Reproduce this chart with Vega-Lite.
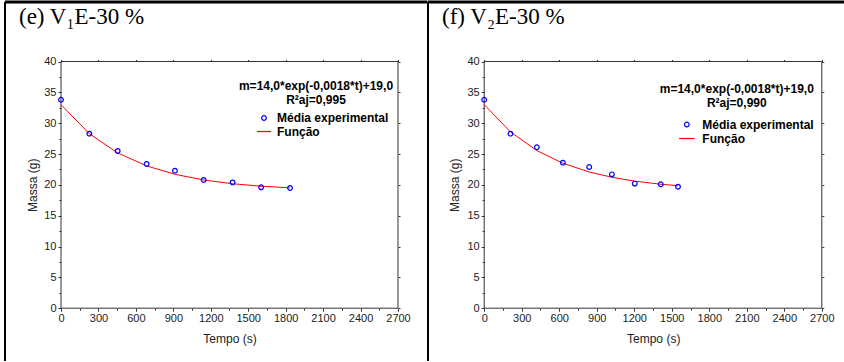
{
  "$schema": "https://vega.github.io/schema/vega-lite/v6.json",
  "background": "white",
  "padding": {"left": 3, "top": 0, "right": 0, "bottom": 0},
  "spacing": 0,
  "bounds": "flush",
  "datasets": {
    "e": [
      {"t": 0, "media": 33.8, "funcao": 33.0},
      {"t": 227, "media": 28.3, "funcao": 28.3},
      {"t": 454, "media": 25.5, "funcao": 25.18},
      {"t": 686, "media": 23.4, "funcao": 23.07},
      {"t": 913, "media": 22.3, "funcao": 21.71},
      {"t": 1143, "media": 20.8, "funcao": 20.79},
      {"t": 1375, "media": 20.4, "funcao": 20.18},
      {"t": 1603, "media": 19.6, "funcao": 19.78},
      {"t": 1835, "media": 19.5, "funcao": 19.52}
    ],
    "f": [
      {"t": 0, "media": 33.8, "funcao": 33.0},
      {"t": 210, "media": 28.3, "funcao": 28.59},
      {"t": 421, "media": 26.1, "funcao": 25.56},
      {"t": 629, "media": 23.6, "funcao": 23.51},
      {"t": 840, "media": 22.9, "funcao": 22.09},
      {"t": 1021, "media": 21.7, "funcao": 21.23},
      {"t": 1204, "media": 20.2, "funcao": 20.6},
      {"t": 1412, "media": 20.1, "funcao": 20.1},
      {"t": 1550, "media": 19.7, "funcao": 19.86}
    ]
  },
  "resolve": {"scale": {"color": "independent"}, "legend": {"color": "independent"}},
  "hconcat": [
    {
      "width": 422.5,
      "height": 359,
      "view": {"stroke": null, "fill": "white"},
      "title": {"text": "(e) V₁E-30 %", "anchor": "start", "frame": "group", "offset": -28.5, "dx": 14, "font": "Liberation Serif", "fontSize": 23, "fontWeight": "normal", "color": "black"},
      "data": {"name": "e"},
      "resolve": {"axis": {"x": "independent", "y": "independent"}},
      "layer": [
        {
          "data": {"values": [{}]},
          "mark": {"type": "rule", "color": "black", "strokeWidth": 2},
          "encoding": {
            "x": {"datum": -448.7, "type": "quantitative", "scale": {"domain": [-448.7, 2936.4], "nice": false, "zero": false}, "axis": null}
          }
        },
        {
          "data": {"values": [{}]},
          "mark": {"type": "rule", "color": "black", "strokeWidth": 3},
          "encoding": {
            "y": {"datum": 49.648, "type": "quantitative", "scale": {"domain": [-8.561, 49.648], "nice": false, "zero": false}, "axis": null}
          }
        },
        {
          "data": {"values": [{}]},
          "mark": {"type": "rect", "filled": false, "stroke": "#333", "strokeWidth": 1},
          "encoding": {
            "x": {"datum": 0, "type": "quantitative", "scale": {"domain": [-448.7, 2936.4], "nice": false, "zero": false},
              "axis": {"orient": "bottom", "offset": -52.8, "values": [0, 300, 600, 900, 1200, 1500, 1800, 2100, 2400, 2700], "format": "d", "domain": false, "grid": false, "tickSize": 3, "tickColor": "#333", "labelFont": "Liberation Sans", "labelFontSize": 11, "labelColor": "#222", "labelPadding": 1, "labelFlush": false, "labelOverlap": false, "title": "Tempo (s)", "titleFont": "Liberation Sans", "titleFontSize": 12, "titleFontWeight": "normal", "titleColor": "#222", "titleX": 224.5, "titleY": 34, "titleBaseline": "alphabetic"}},
            "x2": {"datum": 2700},
            "y": {"datum": 0, "type": "quantitative", "scale": {"domain": [-8.561, 49.648], "nice": false, "zero": false},
              "axis": {"orient": "left", "offset": -56, "values": [0, 5, 10, 15, 20, 25, 30, 35, 40], "domain": false, "grid": false, "tickSize": 3, "tickColor": "#333", "labelFont": "Liberation Sans", "labelFontSize": 11, "labelColor": "#222", "labelPadding": 2, "labelFlush": false, "labelOverlap": false, "title": "Massa (g)", "titleFont": "Liberation Sans", "titleFontSize": 12, "titleFontWeight": "normal", "titleColor": "#222", "titleX": -29, "titleY": 182.8, "titleBaseline": "middle"}},
            "y2": {"datum": 40}
          }
        },
        {
          "mark": {"type": "line", "color": "#ff0000", "strokeWidth": 1},
          "encoding": {
            "x": {"field": "t", "type": "quantitative", "scale": {"domain": [-448.7, 2936.4], "nice": false, "zero": false},
              "axis": {"orient": "bottom", "offset": -52.8, "values": [150, 450, 750, 1050, 1350, 1650, 1950, 2250, 2550], "domain": false, "grid": false, "labels": false, "tickSize": 2, "tickColor": "#333", "title": null}},
            "y": {"field": "funcao", "type": "quantitative", "scale": {"domain": [-8.561, 49.648], "nice": false, "zero": false},
              "axis": {"orient": "left", "offset": -56, "values": [2.5, 7.5, 12.5, 17.5, 22.5, 27.5, 32.5, 37.5], "domain": false, "grid": false, "labels": false, "tickSize": 2, "tickColor": "#333", "title": null}},
            "color": {"datum": "Função", "type": "nominal", "scale": {"domain": ["Média experimental", "Função"], "range": ["#0000ff", "#ff0000"]},
              "legend": {"orient": "none", "legendX": 234, "legendY": 79, "title": ["m=14,0*exp(-0,0018*t)+19,0", "R²aj=0,995"], "titleFont": "Liberation Sans", "titleFontSize": 12, "titleFontWeight": "bold", "titleColor": "black", "titleAlign": "center", "titleAnchor": "middle", "titleLineHeight": 14, "titlePadding": 5, "titleLimit": 400, "labelFont": "Liberation Sans", "labelFontSize": 12, "labelFontWeight": "bold", "labelColor": "black", "labelLimit": 400, "symbolSize": 100, "symbolOffset": 14, "labelOffset": 7, "rowPadding": 1.5,
                "encode": {"symbols": {"update": {"shape": {"signal": "datum.value === 'Função' ? 'stroke' : 'circle'"}, "size": {"signal": "datum.value === 'Função' ? 200 : 22"}, "stroke": {"signal": "datum.value === 'Função' ? '#ff0000' : '#0000ff'"}, "strokeWidth": {"value": 1.2}, "fill": {"value": "transparent"}}}}}}
          }
        },
        {
          "mark": {"type": "point", "shape": "circle", "filled": false, "size": 22, "strokeWidth": 1.2, "opacity": 1},
          "encoding": {
            "x": {"field": "t", "type": "quantitative", "scale": {"domain": [-448.7, 2936.4], "nice": false, "zero": false},
              "axis": {"orient": "top", "offset": -59.5, "values": [0, 300, 600, 900, 1200, 1500, 1800, 2100, 2400, 2700], "domain": false, "grid": false, "labels": false, "tickSize": 2, "tickColor": "#333", "title": null}},
            "y": {"field": "media", "type": "quantitative", "scale": {"domain": [-8.561, 49.648], "nice": false, "zero": false},
              "axis": {"orient": "right", "offset": -29.5, "values": [0, 5, 10, 15, 20, 25, 30, 35, 40], "domain": false, "grid": false, "labels": false, "tickSize": 2, "tickColor": "#333", "title": null}},
            "color": {"datum": "Média experimental", "type": "nominal", "scale": {"domain": ["Média experimental", "Função"], "range": ["#0000ff", "#ff0000"]},
              "legend": {"orient": "none", "legendX": 234, "legendY": 79, "title": ["m=14,0*exp(-0,0018*t)+19,0", "R²aj=0,995"], "titleFont": "Liberation Sans", "titleFontSize": 12, "titleFontWeight": "bold", "titleColor": "black", "titleAlign": "center", "titleAnchor": "middle", "titleLineHeight": 14, "titlePadding": 5, "titleLimit": 400, "labelFont": "Liberation Sans", "labelFontSize": 12, "labelFontWeight": "bold", "labelColor": "black", "labelLimit": 400, "symbolSize": 100, "symbolOffset": 14, "labelOffset": 7, "rowPadding": 1.5,
                "encode": {"symbols": {"update": {"shape": {"signal": "datum.value === 'Função' ? 'stroke' : 'circle'"}, "size": {"signal": "datum.value === 'Função' ? 200 : 22"}, "stroke": {"signal": "datum.value === 'Função' ? '#ff0000' : '#0000ff'"}, "strokeWidth": {"value": 1.2}, "fill": {"value": "transparent"}}}}}}
          }
        }
      ]
    },
    {
      "width": 417,
      "height": 359,
      "view": {"stroke": null, "fill": "white"},
      "title": {"text": "(f) V₂E-30 %", "anchor": "start", "frame": "group", "offset": -28.5, "dx": 14, "font": "Liberation Serif", "fontSize": 23, "fontWeight": "normal", "color": "black"},
      "data": {"name": "f"},
      "resolve": {"axis": {"x": "independent", "y": "independent"}},
      "layer": [
        {
          "data": {"values": [{}]},
          "mark": {"type": "rule", "color": "black", "strokeWidth": 2},
          "encoding": {
            "x": {"datum": -449.5, "type": "quantitative", "scale": {"domain": [-449.5, 2885.6], "nice": false, "zero": false}, "axis": null}
          }
        },
        {
          "data": {"values": [{}]},
          "mark": {"type": "rule", "color": "black", "strokeWidth": 3},
          "encoding": {
            "y": {"datum": 49.648, "type": "quantitative", "scale": {"domain": [-8.561, 49.648], "nice": false, "zero": false}, "axis": null}
          }
        },
        {
          "data": {"values": [{}]},
          "mark": {"type": "rect", "filled": false, "stroke": "#333", "strokeWidth": 1},
          "encoding": {
            "x": {"datum": 0, "type": "quantitative", "scale": {"domain": [-449.5, 2885.6], "nice": false, "zero": false},
              "axis": {"orient": "bottom", "offset": -52.8, "values": [0, 300, 600, 900, 1200, 1500, 1800, 2100, 2400, 2700], "format": "d", "domain": false, "grid": false, "tickSize": 3, "tickColor": "#333", "labelFont": "Liberation Sans", "labelFontSize": 11, "labelColor": "#222", "labelPadding": 1, "labelFlush": false, "labelOverlap": false, "title": "Tempo (s)", "titleFont": "Liberation Sans", "titleFontSize": 12, "titleFontWeight": "normal", "titleColor": "#222", "titleX": 225.2, "titleY": 34, "titleBaseline": "alphabetic"}},
            "x2": {"datum": 2700},
            "y": {"datum": 0, "type": "quantitative", "scale": {"domain": [-8.561, 49.648], "nice": false, "zero": false},
              "axis": {"orient": "left", "offset": -56.2, "values": [0, 5, 10, 15, 20, 25, 30, 35, 40], "domain": false, "grid": false, "tickSize": 3, "tickColor": "#333", "labelFont": "Liberation Sans", "labelFontSize": 11, "labelColor": "#222", "labelPadding": 2, "labelFlush": false, "labelOverlap": false, "title": "Massa (g)", "titleFont": "Liberation Sans", "titleFontSize": 12, "titleFontWeight": "normal", "titleColor": "#222", "titleX": -29.5, "titleY": 182.8, "titleBaseline": "middle"}},
            "y2": {"datum": 40}
          }
        },
        {
          "mark": {"type": "line", "color": "#ff0000", "strokeWidth": 1},
          "encoding": {
            "x": {"field": "t", "type": "quantitative", "scale": {"domain": [-449.5, 2885.6], "nice": false, "zero": false},
              "axis": {"orient": "bottom", "offset": -52.8, "values": [150, 450, 750, 1050, 1350, 1650, 1950, 2250, 2550], "domain": false, "grid": false, "labels": false, "tickSize": 2, "tickColor": "#333", "title": null}},
            "y": {"field": "funcao", "type": "quantitative", "scale": {"domain": [-8.561, 49.648], "nice": false, "zero": false},
              "axis": {"orient": "left", "offset": -56.2, "values": [2.5, 7.5, 12.5, 17.5, 22.5, 27.5, 32.5, 37.5], "domain": false, "grid": false, "labels": false, "tickSize": 2, "tickColor": "#333", "title": null}},
            "color": {"datum": "Função", "type": "nominal", "scale": {"domain": ["Média experimental", "Função"], "range": ["#0000ff", "#ff0000"]},
              "legend": {"orient": "none", "legendX": 231.8, "legendY": 81.5, "title": ["m=14,0*exp(-0,0018*t)+19,0", "R²aj=0,990"], "titleFont": "Liberation Sans", "titleFontSize": 12, "titleFontWeight": "bold", "titleColor": "black", "titleAlign": "center", "titleAnchor": "middle", "titleLineHeight": 14, "titlePadding": 9, "titleLimit": 400, "labelFont": "Liberation Sans", "labelFontSize": 12, "labelFontWeight": "bold", "labelColor": "black", "labelLimit": 400, "symbolSize": 100, "symbolOffset": 20, "labelOffset": 9.5, "rowPadding": 2,
                "encode": {"symbols": {"update": {"shape": {"signal": "datum.value === 'Função' ? 'stroke' : 'circle'"}, "size": {"signal": "datum.value === 'Função' ? 240 : 22"}, "stroke": {"signal": "datum.value === 'Função' ? '#ff0000' : '#0000ff'"}, "strokeWidth": {"value": 1.2}, "fill": {"value": "transparent"}}}}}}
          }
        },
        {
          "mark": {"type": "point", "shape": "circle", "filled": false, "size": 22, "strokeWidth": 1.2, "opacity": 1},
          "encoding": {
            "x": {"field": "t", "type": "quantitative", "scale": {"domain": [-449.5, 2885.6], "nice": false, "zero": false},
              "axis": {"orient": "top", "offset": -59.5, "values": [0, 300, 600, 900, 1200, 1500, 1800, 2100, 2400, 2700], "domain": false, "grid": false, "labels": false, "tickSize": 2, "tickColor": "#333", "title": null}},
            "y": {"field": "media", "type": "quantitative", "scale": {"domain": [-8.561, 49.648], "nice": false, "zero": false},
              "axis": {"orient": "right", "offset": -23.2, "values": [0, 5, 10, 15, 20, 25, 30, 35, 40], "domain": false, "grid": false, "labels": false, "tickSize": 2, "tickColor": "#333", "title": null}},
            "color": {"datum": "Média experimental", "type": "nominal", "scale": {"domain": ["Média experimental", "Função"], "range": ["#0000ff", "#ff0000"]},
              "legend": {"orient": "none", "legendX": 231.8, "legendY": 81.5, "title": ["m=14,0*exp(-0,0018*t)+19,0", "R²aj=0,990"], "titleFont": "Liberation Sans", "titleFontSize": 12, "titleFontWeight": "bold", "titleColor": "black", "titleAlign": "center", "titleAnchor": "middle", "titleLineHeight": 14, "titlePadding": 9, "titleLimit": 400, "labelFont": "Liberation Sans", "labelFontSize": 12, "labelFontWeight": "bold", "labelColor": "black", "labelLimit": 400, "symbolSize": 100, "symbolOffset": 20, "labelOffset": 9.5, "rowPadding": 2,
                "encode": {"symbols": {"update": {"shape": {"signal": "datum.value === 'Função' ? 'stroke' : 'circle'"}, "size": {"signal": "datum.value === 'Função' ? 240 : 22"}, "stroke": {"signal": "datum.value === 'Função' ? '#ff0000' : '#0000ff'"}, "strokeWidth": {"value": 1.2}, "fill": {"value": "transparent"}}}}}}
          }
        }
      ]
    }
  ],
  "config": {
    "axis": {"grid": false},
    "style": {"guide-title": {"fontWeight": "normal"}}
  }
}
